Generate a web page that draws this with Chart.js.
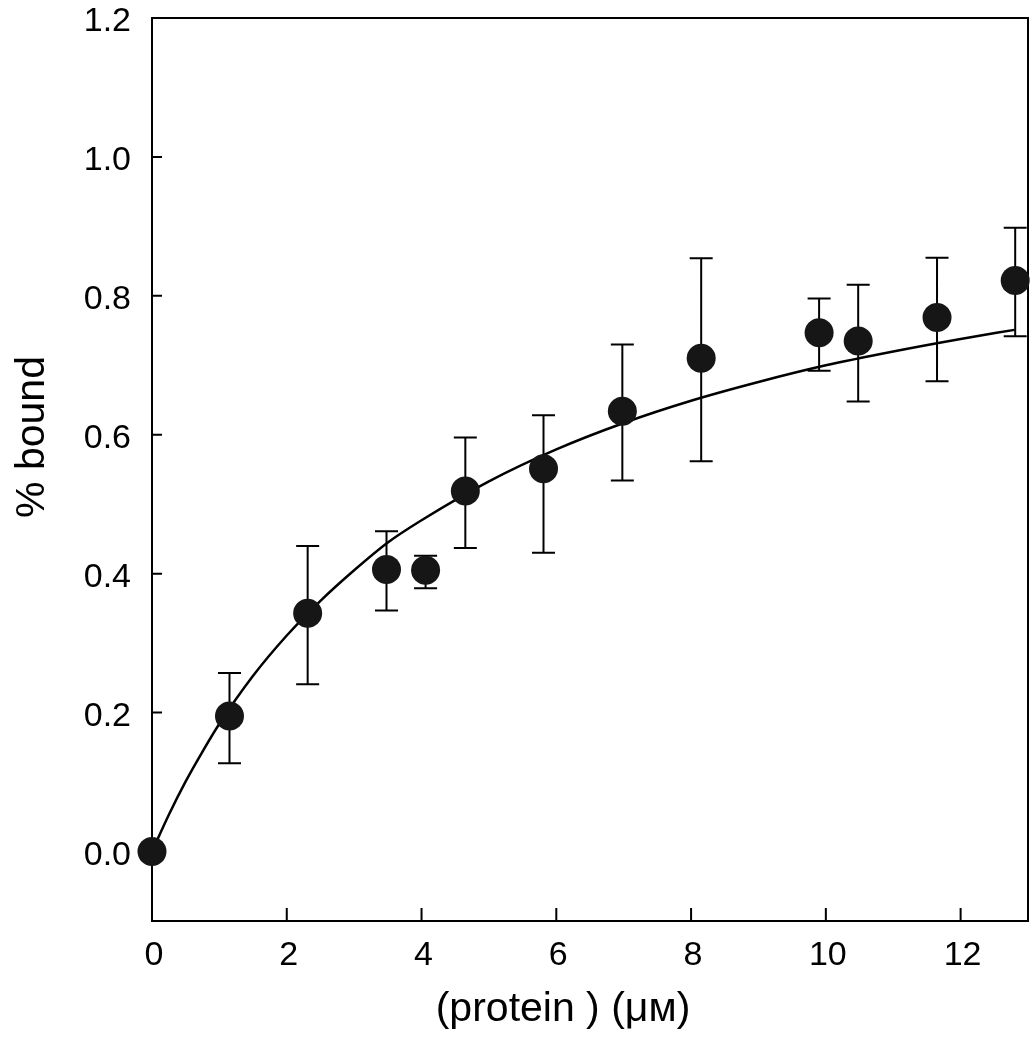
<!DOCTYPE html>
<html><head><meta charset="utf-8">
<script src="https://cdn.jsdelivr.net/npm/chart.js@4.4.1/dist/chart.umd.min.js"></script>
<style>html,body{margin:0;padding:0;background:#fff}canvas{display:block}</style>
</head><body>
<canvas id="c" width="1035" height="1050"></canvas>
<script>
// measured data points
const proteinUM = [0, 1.15, 2.31, 3.48, 4.06, 4.65, 5.81, 6.98, 8.15, 9.90, 10.48, 11.65, 12.81];
const bound     = [0.0, 0.195, 0.343, 0.406, 0.405, 0.519, 0.551, 0.634, 0.710, 0.747, 0.735, 0.769, 0.822];
const errHigh   = [null, 0.257, 0.440, 0.461, 0.426, 0.596, 0.628, 0.730, 0.854, 0.796, 0.816, 0.855, 0.898];
const errLow    = [null, 0.127, 0.241, 0.347, 0.379, 0.437, 0.430, 0.534, 0.562, 0.692, 0.648, 0.677, 0.742];
// fitted curve
const fitX = [0, 0.25, 0.5, 0.75, 1, 1.5, 2, 2.5, 3, 3.5, 4, 5, 6, 7, 8, 9, 10, 11, 12, 12.8];
const fitY = [0, 0.053, 0.101, 0.144, 0.184, 0.253, 0.311, 0.361, 0.405, 0.445, 0.477, 0.533, 0.579, 0.617, 0.649, 0.676, 0.700, 0.720, 0.738, 0.751];
// axis ticks and titles
const xTicks = [0, 2, 4, 6, 8, 10, 12];
const yTicks = [0.0, 0.2, 0.4, 0.6, 0.8, 1.0, 1.2];
const xTitle = '(protein ) (μᴍ)';
const yTitle = '% bound';

const FONT = "'Liberation Sans', Arial, Helvetica, sans-serif";
const INK = '#000';

const framePlugin = {
  id: 'frame',
  beforeDatasetsDraw(chart) {
    const {ctx, chartArea: a, scales: {x, y}} = chart;
    ctx.save();
    ctx.strokeStyle = INK;
    ctx.lineWidth = 2;
    ctx.strokeRect(a.left, a.top, a.right - a.left, a.bottom - a.top);
    // inward ticks
    ctx.beginPath();
    xTicks.forEach(v => { const px = x.getPixelForValue(v); ctx.moveTo(px, a.bottom); ctx.lineTo(px, a.bottom - 13); });
    yTicks.forEach(v => { const py = y.getPixelForValue(v); ctx.moveTo(a.left, py); ctx.lineTo(a.left + 10, py); });
    ctx.stroke();
    // error bars
    ctx.beginPath();
    proteinUM.forEach((xv, i) => {
      if (errHigh[i] == null) return;
      const px = x.getPixelForValue(xv);
      const hi = y.getPixelForValue(errHigh[i]);
      const lo = y.getPixelForValue(errLow[i]);
      ctx.moveTo(px, hi); ctx.lineTo(px, lo);
      ctx.moveTo(px - 11.5, hi); ctx.lineTo(px + 11.5, hi);
      ctx.moveTo(px - 11.5, lo); ctx.lineTo(px + 11.5, lo);
    });
    ctx.stroke();
    // axis titles
    ctx.fillStyle = INK;
    ctx.font = "41px " + FONT;
    ctx.textAlign = 'center';
    ctx.textBaseline = 'alphabetic';
    ctx.fillText(xTitle, 563, 1021);
    ctx.translate(44, 437);
    ctx.rotate(-Math.PI / 2);
    ctx.fillText(yTitle, 0, 0);
    ctx.restore();
  }
};

const noPad = s => { s.paddingTop = 0; s.paddingBottom = 0; s.paddingLeft = 0; s.paddingRight = 0; };

new Chart(document.getElementById('c'), {
  type: 'scatter',
  data: {
    datasets: [
      {
        label: 'data',
        data: proteinUM.map((v, i) => ({x: v, y: bound[i]})),
        pointRadius: 14.5,
        pointHoverRadius: 14.5,
        pointBackgroundColor: '#161616',
        pointBorderColor: '#161616',
        pointBorderWidth: 0,
        showLine: false,
        clip: false
      },
      {
        label: 'fit',
        data: fitX.map((v, i) => ({x: v, y: fitY[i]})),
        showLine: true,
        borderColor: INK,
        borderWidth: 2.5,
        pointRadius: 0,
        pointHoverRadius: 0,
        cubicInterpolationMode: 'monotone',
        fill: false
      }
    ]
  },
  options: {
    responsive: false,
    animation: false,
    events: [],
    layout: {autoPadding: false, padding: {left: 0, top: 18, right: 7, bottom: 0}},
    plugins: {legend: {display: false}, tooltip: {enabled: false}},
    scales: {
      x: {
        type: 'linear', min: 0, max: 13,
        afterBuildTicks: s => { s.ticks = xTicks.map(v => ({value: v})); },
        afterFit: s => { s.height = 129; noPad(s); },
        grid: {display: false, drawTicks: false},
        border: {display: false},
        ticks: {color: INK, font: {family: FONT, size: 34}, padding: 14, labelOffset: 2, maxRotation: 0, callback: v => String(v)},
        title: {display: false}
      },
      y: {
        type: 'linear', min: -0.1, max: 1.2,
        afterBuildTicks: s => { s.ticks = yTicks.map(v => ({value: v})); },
        afterFit: s => { s.width = 152; noPad(s); },
        grid: {display: false, drawTicks: false},
        border: {display: false},
        ticks: {color: INK, font: {family: FONT, size: 34}, padding: 21, labelOffset: 4, callback: v => v.toFixed(1)},
        title: {display: false}
      }
    }
  },
  plugins: [framePlugin]
});
</script>
</body></html>
